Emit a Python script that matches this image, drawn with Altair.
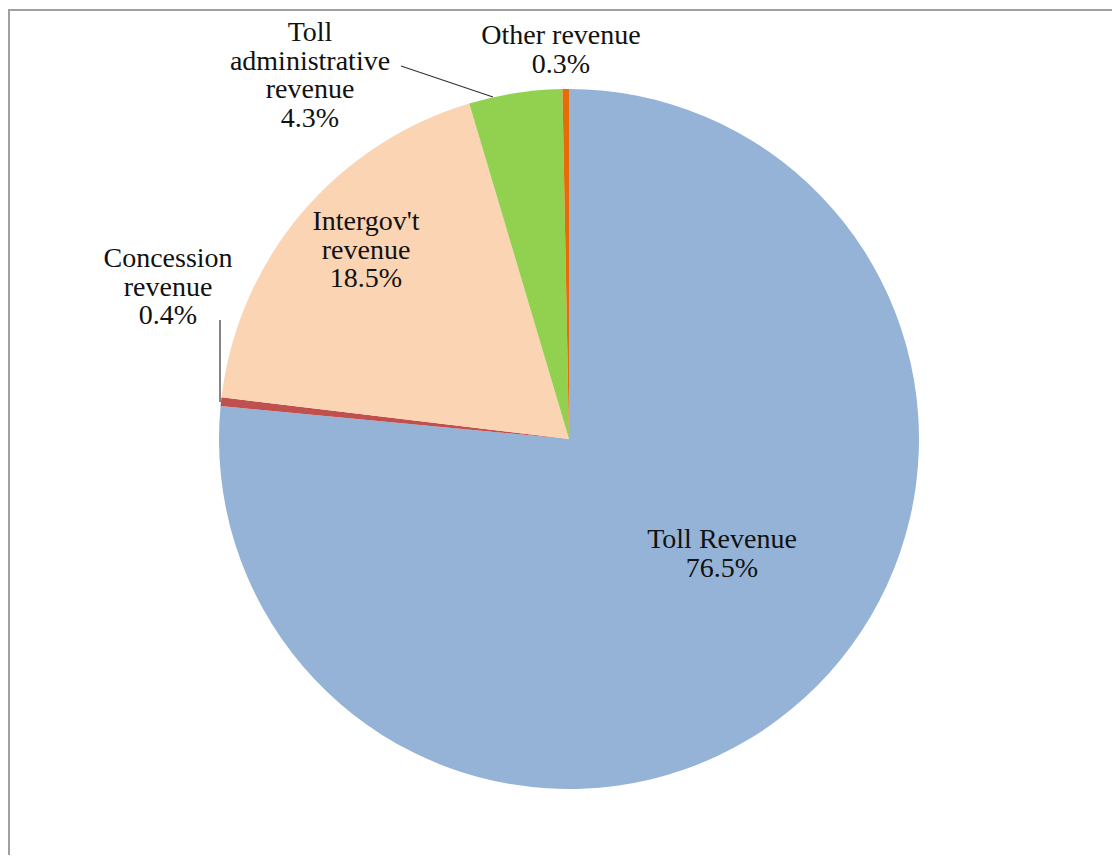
import altair as alt
import pandas as pd

# ---- data ----
categories = ["Toll Revenue", "Concession revenue", "Intergov't revenue",
              "Toll administrative revenue", "Other revenue"]
shares = [76.5, 0.4, 18.5, 4.3, 0.3]
label_lines = [["Toll Revenue"], ["Concession", "revenue"], ["Intergov't", "revenue"],
               ["Toll", "administrative", "revenue"], ["Other revenue"]]
colors = ["#95B3D7", "#C0504D", "#FBD4B4", "#92D050", "#E46C0A"]

df = pd.DataFrame({
    "category": categories,
    "share": shares,
    "order": list(range(len(categories))),
    "label": ["\n".join(l + [f"{s}%"]) for l, s in zip(label_lines, shares)],
})

W, H = 1104, 847
cx, cy, R = 561, 431, 350
FONT = "Liberation Serif"
FS = 28
LH = 28.5

theta_scale = alt.Scale(domain=[0, 100])
base = alt.Chart(df)

pie = base.mark_arc(radius=R).encode(
    theta=alt.Theta("share:Q", stack=True, scale=theta_scale),
    color=alt.Color("category:N", scale=alt.Scale(domain=categories, range=colors), legend=None),
    order=alt.Order("order:Q"),
    x=alt.value(cx),
    y=alt.value(cy),
)


def label(cat, x, y):
    # y is the middle of the first text line
    return base.transform_filter(alt.datum.category == cat).mark_text(
        font=FONT, fontSize=FS, lineBreak="\n", lineHeight=LH,
        align="center", baseline="middle", color="#111111",
    ).encode(text="label:N", x=alt.value(x), y=alt.value(y))


one = alt.Chart(pd.DataFrame({"k": [0]}))


def seg(x1, y1, x2, y2, color="#333333", w=1.2):
    return one.mark_rule(color=color, strokeWidth=w).encode(
        x=alt.value(x1), y=alt.value(y1), x2=alt.value(x2), y2=alt.value(y2))


chart = alt.layer(
    pie,
    label("Toll Revenue", 714, 532),
    label("Intergov't revenue", 358, 214),
    label("Toll administrative revenue", 302, 25),
    label("Other revenue", 553, 28),
    label("Concession revenue", 160, 251),
    seg(393, 58, 485, 89),
    seg(212, 312, 212, 394),
    seg(0, 2, W, 2, color="#A0A0A0", w=2),
    seg(1, 2, 1, H, color="#A0A0A0", w=2),
).properties(
    width=W, height=H, padding=0,
    autosize=alt.AutoSizeParams(type="none"),
).configure_view(stroke=None)

chart.save("out.html", embed_options={"renderer": "svg", "actions": False})
